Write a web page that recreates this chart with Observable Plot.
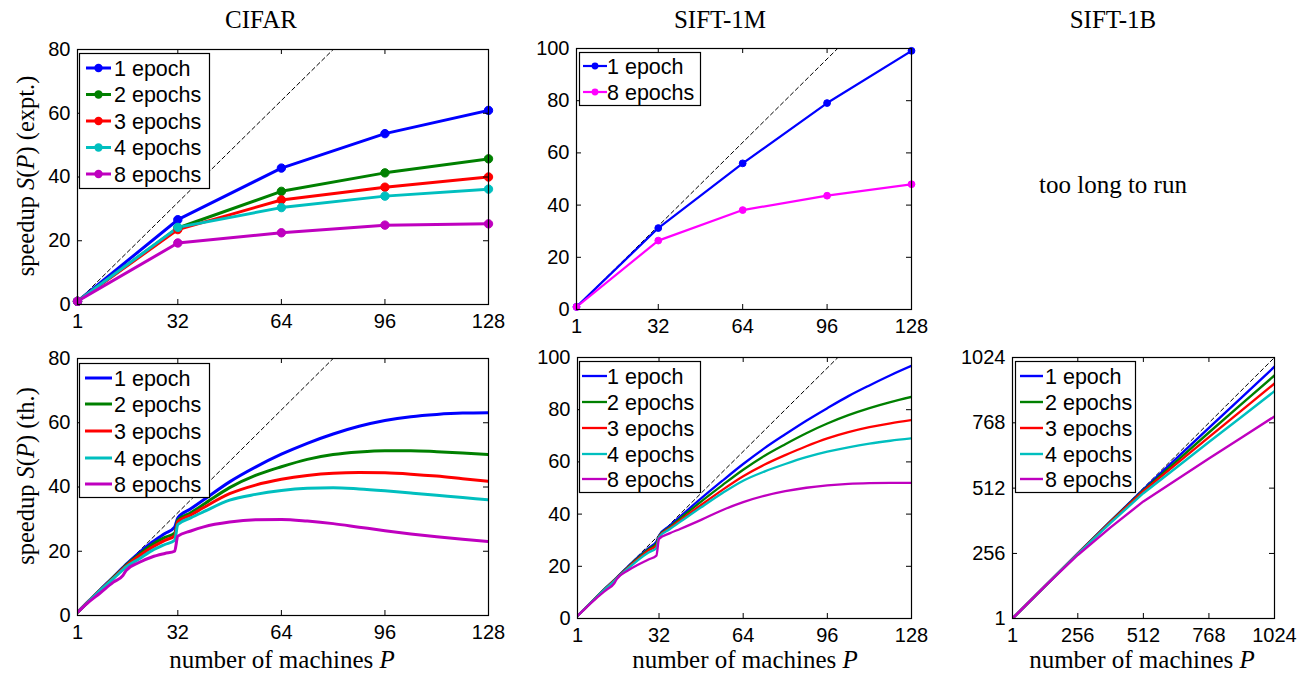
<!DOCTYPE html>
<html><head><meta charset="utf-8">
<script src="https://cdn.jsdelivr.net/npm/d3@7"></script>
<script src="https://cdn.jsdelivr.net/npm/@observablehq/plot@0.6"></script>
<style>
body{margin:0;background:#fff;}
#root{position:relative;width:1299px;height:673px;overflow:hidden;background:#fff;}
#root > svg{position:absolute;}
</style></head><body><div id="root"></div>
<script>
// ---------- data ----------
const seriesNames = ["1 epoch", "2 epochs", "3 epochs", "4 epochs", "8 epochs"];
const seriesColors = ["#0000ff", "#008000", "#ff0000", "#00bfbf", "#bf00bf"];
const siftExptColors = ["#0000ff", "#ff00ff"];
const siftExptNames = ["1 epoch", "8 epochs"];

const P_expt = [1, 32, 64, 96, 128];
const cifarExpt1 = [1, 26.6, 42.8, 53.6, 60.9];
const cifarExpt2 = [1, 24.0, 35.5, 41.3, 45.7];
const cifarExpt3 = [1, 23.5, 32.8, 36.8, 40.0];
const cifarExpt4 = [1, 24.2, 30.4, 34.0, 36.2];
const cifarExpt8 = [1, 19.3, 22.5, 24.9, 25.3];
const sift1mExpt1 = [1, 31.2, 56.0, 79.1, 99.1];
const sift1mExpt8 = [1, 26.4, 38.1, 43.6, 48.0];

const P_th = [1, 4, 8, 12, 15, 16, 20, 24, 28, 31, 32, 36, 40, 48, 56, 64, 72, 80, 88, 96, 104, 112, 120, 128];
const cifarTh1 = [1, 4.0, 8.0, 11.9, 14.9, 15.9, 19.5, 22.8, 25.5, 27.5, 30.4, 33.2, 36.0, 41.6, 46.2, 50.2, 53.6, 56.5, 58.9, 60.7, 61.9, 62.6, 63.0, 63.1];
const cifarTh2 = [1, 4.0, 7.9, 11.8, 14.7, 15.7, 19.0, 22.0, 24.3, 25.6, 29.7, 32.0, 34.6, 39.8, 43.6, 46.3, 48.6, 50.1, 50.9, 51.3, 51.3, 51.0, 50.6, 50.1];
const cifarTh3 = [1, 4.0, 7.9, 11.6, 14.5, 15.4, 18.5, 21.2, 23.4, 24.8, 29.2, 31.3, 33.6, 37.9, 40.6, 42.4, 43.6, 44.3, 44.5, 44.4, 44.0, 43.4, 42.6, 41.8];
const cifarTh4 = [1, 3.95, 7.8, 11.4, 14.2, 15.1, 17.6, 20.2, 22.1, 23.4, 28.3, 30.4, 32.3, 35.9, 37.7, 38.9, 39.6, 39.8, 39.4, 38.8, 38.1, 37.4, 36.7, 36.0];
const cifarTh8 = [1, 3.8, 7.0, 10.3, 12.4, 14.0, 16.5, 18.2, 19.3, 20.0, 24.7, 26.3, 27.6, 29.1, 29.8, 29.9, 29.4, 28.6, 27.5, 26.4, 25.4, 24.5, 23.7, 23.0];

const sift1mTh1 = [1, 4.0, 8.0, 12.0, 14.8, 15.8, 19.7, 23.5, 27.0, 29.5, 31.8, 35.5, 39.0, 46.0, 52.7, 59.2, 65.2, 70.6, 75.8, 80.6, 85.2, 89.3, 93.2, 96.8];
const sift1mTh2 = [1, 4.0, 8.0, 11.9, 14.7, 15.7, 19.5, 23.2, 26.6, 28.8, 31.6, 35.0, 38.3, 44.8, 51.0, 57.0, 62.3, 66.8, 71.0, 74.7, 77.9, 80.6, 82.9, 84.9];
const sift1mTh3 = [1, 4.0, 7.9, 11.8, 14.6, 15.6, 19.3, 22.8, 26.1, 28.0, 31.4, 34.6, 37.6, 43.5, 49.2, 54.5, 58.9, 62.6, 66.0, 69.0, 71.4, 73.3, 74.8, 76.0];
const sift1mTh4 = [1, 4.0, 7.9, 11.7, 14.4, 15.5, 19.0, 22.4, 25.3, 27.0, 31.2, 34.2, 37.0, 42.6, 48.0, 52.8, 56.3, 59.2, 61.8, 63.9, 65.6, 67.0, 68.1, 69.0];
const sift1mTh8 = [1, 3.9, 7.6, 11.0, 13.5, 15.2, 18.3, 20.6, 22.6, 24.1, 30.5, 32.6, 34.3, 37.8, 41.5, 44.6, 47.0, 48.8, 50.1, 51.0, 51.6, 51.9, 52.0, 52.0];

const P_1b = [1, 128, 256, 384, 512, 640, 768, 896, 1024];
const sift1bTh1 = [1, 128, 256, 383, 507, 628, 748, 868, 988];
const sift1bTh2 = [1, 128, 255, 382, 503, 616, 730, 842, 954];
const sift1bTh3 = [1, 128, 255, 380, 500, 606, 712, 817, 922];
const sift1bTh4 = [1, 128, 254, 376, 492, 592, 693, 792, 892];
const sift1bTh8 = [1, 128, 250, 358, 460, 544, 628, 710, 793];

const ticks128 = [1, 32, 64, 96, 128];
const ticks80 = [0, 20, 40, 60, 80];
const ticks100 = [0, 20, 40, 60, 80, 100];
const ticks1024 = [1, 256, 512, 768, 1024];
const diag128 = [1, 128];
const diag1024 = [1, 1024];

// ---------- drawing ----------
const root = document.getElementById("root");
const SANS = "'Liberation Sans', Arial, Helvetica, sans-serif";
const SERIF = "'Liberation Serif', 'Times New Roman', serif";

function addPanel(cfg) {
  const ml = 70, mr = 40, mt = 12, mb = 45;
  const {left, top, w, h} = cfg;
  const marks = [];
  marks.push(Plot.line(cfg.diag, {x: d => d, y: d => d, stroke: "#000", strokeWidth: 1, strokeDasharray: "4,3", clip: true}));
  cfg.series.forEach(s => {
    marks.push(Plot.line(s.y, {x: (d, i) => cfg.xs[i], y: d => d, stroke: s.color, strokeWidth: cfg.sw, clip: true,
      curve: cfg.curve || "linear"}));
  });
  if (cfg.r) cfg.series.forEach(s => {
    marks.push(Plot.dot(s.y, {x: (d, i) => cfg.xs[i], y: d => d, r: cfg.r, fill: s.color, stroke: s.color, strokeWidth: 1}));
  });
  marks.push(
    Plot.tickX(cfg.xTicks, {x: d => d, insetTop: h - 5, stroke: "#000"}),
    Plot.tickX(cfg.xTicks, {x: d => d, insetBottom: h - 5, stroke: "#000"}),
    Plot.tickY(cfg.yTicks, {y: d => d, insetRight: w - 5, stroke: "#000"}),
    Plot.tickY(cfg.yTicks, {y: d => d, insetLeft: w - 5, stroke: "#000"}),
    Plot.frame({stroke: "#000", strokeWidth: 1.2}),
    Plot.axisX(cfg.xTicks, {tickSize: 0, tickPadding: 9, tickFormat: d => String(d), label: null, fontSize: 20, fill: "#000"}),
    Plot.axisY(cfg.yTicks, {tickSize: 0, tickPadding: 7, tickFormat: d => String(d), label: null, fontSize: 20, fill: "#000"})
  );
  const svg = Plot.plot({
    width: w + ml + mr, height: h + mt + mb,
    marginLeft: ml, marginRight: mr, marginTop: mt, marginBottom: mb,
    x: {domain: cfg.xDomain, label: null},
    y: {domain: cfg.yDomain, label: null},
    style: {fontFamily: SANS, fontSize: "20px", background: "transparent", overflow: "visible", color: "#000"},
    marks
  });
  svg.style.left = (left - ml) + "px";
  svg.style.top = (top - mt) + "px";
  root.appendChild(svg);
}

addPanel({left: 77, top: 49, w: 411, h: 255, xDomain: [1, 128], yDomain: [0, 80], xTicks: ticks128, yTicks: ticks80,
  xs: P_expt, diag: diag128, sw: 3, r: 4.2,
  series: [cifarExpt1, cifarExpt2, cifarExpt3, cifarExpt4, cifarExpt8].map((y, i) => ({y, color: seriesColors[i]}))});
addPanel({left: 576, top: 48, w: 335, h: 261, xDomain: [1, 128], yDomain: [0, 100], xTicks: ticks128, yTicks: ticks100,
  xs: P_expt, diag: diag128, sw: 2.2, r: 3.4,
  series: [sift1mExpt1, sift1mExpt8].map((y, i) => ({y, color: siftExptColors[i]}))});
addPanel({left: 77, top: 358, w: 411, h: 257, xDomain: [1, 128], yDomain: [0, 80], xTicks: ticks128, yTicks: ticks80,
  xs: P_th, diag: diag128, sw: 3, curve: "monotone-x",
  series: [cifarTh1, cifarTh2, cifarTh3, cifarTh4, cifarTh8].map((y, i) => ({y, color: seriesColors[i]}))});
addPanel({left: 577, top: 357, w: 334, h: 261, xDomain: [1, 128], yDomain: [0, 100], xTicks: ticks128, yTicks: ticks100,
  xs: P_th, diag: diag128, sw: 2.3, curve: "monotone-x",
  series: [sift1mTh1, sift1mTh2, sift1mTh3, sift1mTh4, sift1mTh8].map((y, i) => ({y, color: seriesColors[i]}))});
addPanel({left: 1012, top: 357, w: 262, h: 261, xDomain: [1, 1024], yDomain: [1, 1024], xTicks: ticks1024, yTicks: ticks1024,
  xs: P_1b, diag: diag1024, sw: 2.4,
  series: [sift1bTh1, sift1bTh2, sift1bTh3, sift1bTh4, sift1bTh8].map((y, i) => ({y, color: seriesColors[i]}))});

// ---------- overlay: titles, labels, legends ----------
const ov = d3.select(root).append("svg")
  .attr("width", 1299).attr("height", 673)
  .style("left", "0px").style("top", "0px").style("pointer-events", "none");

function serifText(x, y, parts, size, rotate) {
  const t = ov.append("text")
    .attr("font-family", SERIF).attr("font-size", size).attr("text-anchor", "middle").attr("fill", "#000");
  if (rotate) t.attr("transform", `translate(${x},${y}) rotate(-90)`).attr("dy", "0.35em");
  else t.attr("x", x).attr("y", y);
  parts.forEach(p => {
    const ts = t.append("tspan").text(p[0]);
    if (p[1]) ts.attr("font-style", "italic");
  });
}

serifText(261, 28, [["CIFAR"]], 25);
serifText(720, 28, [["SIFT-1M"]], 25);
serifText(1113, 28, [["SIFT-1B"]], 25);
serifText(1113, 193, [["too long to run"]], 25);
serifText(25, 176, [["speedup "], ["S", true], ["("], ["P", true], [")"], [" (expt.)"]], 24.5, true);
serifText(25, 476, [["speedup "], ["S", true], ["("], ["P", true], [")"], [" (th.)"]], 24.5, true);
serifText(282, 668, [["number of machines "], ["P", true]], 25);
serifText(745, 668, [["number of machines "], ["P", true]], 25);
serifText(1142, 668, [["number of machines "], ["P", true]], 25);

function legend(cfg) {
  const g = ov.append("g");
  g.append("rect").attr("x", cfg.x + 0.5).attr("y", cfg.y + 0.5).attr("width", cfg.w).attr("height", cfg.h)
    .attr("fill", "#fff").attr("stroke", "#000").attr("stroke-width", 1.2);
  cfg.names.forEach((name, i) => {
    const cy = cfg.y + cfg.rowY[i];
    g.append("line").attr("x1", cfg.x + cfg.lx1).attr("x2", cfg.x + cfg.lx2).attr("y1", cy).attr("y2", cy)
      .attr("stroke", cfg.colors[i]).attr("stroke-width", cfg.sw);
    if (cfg.r) g.append("circle").attr("cx", cfg.x + (cfg.lx1 + cfg.lx2) / 2).attr("cy", cy).attr("r", cfg.r)
      .attr("fill", cfg.colors[i]);
    g.append("text").attr("x", cfg.x + cfg.tx).attr("y", cy).attr("dy", "0.36em")
      .attr("font-family", SANS).attr("font-size", 21.5).attr("fill", "#000").text(name);
  });
}

legend({x: 79, y: 53, w: 130, h: 135, names: seriesNames, colors: seriesColors, rowY: [15, 41.5, 68, 94.5, 121],
  lx1: 7, lx2: 32, tx: 35, sw: 3, r: 4.2});
legend({x: 579, y: 52, w: 121, h: 53, names: siftExptNames, colors: siftExptColors, rowY: [14, 40],
  lx1: 4, lx2: 28, tx: 28, sw: 2.2, r: 3.4});
legend({x: 79, y: 363, w: 130, h: 134, names: seriesNames, colors: seriesColors, rowY: [15, 41, 68, 95, 121],
  lx1: 6, lx2: 33, tx: 35, sw: 3});
legend({x: 579, y: 361, w: 121, h: 131, names: seriesNames, colors: seriesColors, rowY: [15, 41, 67, 93, 118],
  lx1: 3, lx2: 28, tx: 28, sw: 2.3});
legend({x: 1015, y: 361, w: 120, h: 131, names: seriesNames, colors: seriesColors, rowY: [15, 41, 67, 93, 118],
  lx1: 5, lx2: 28, tx: 30, sw: 2.4});
</script>
</body></html>
